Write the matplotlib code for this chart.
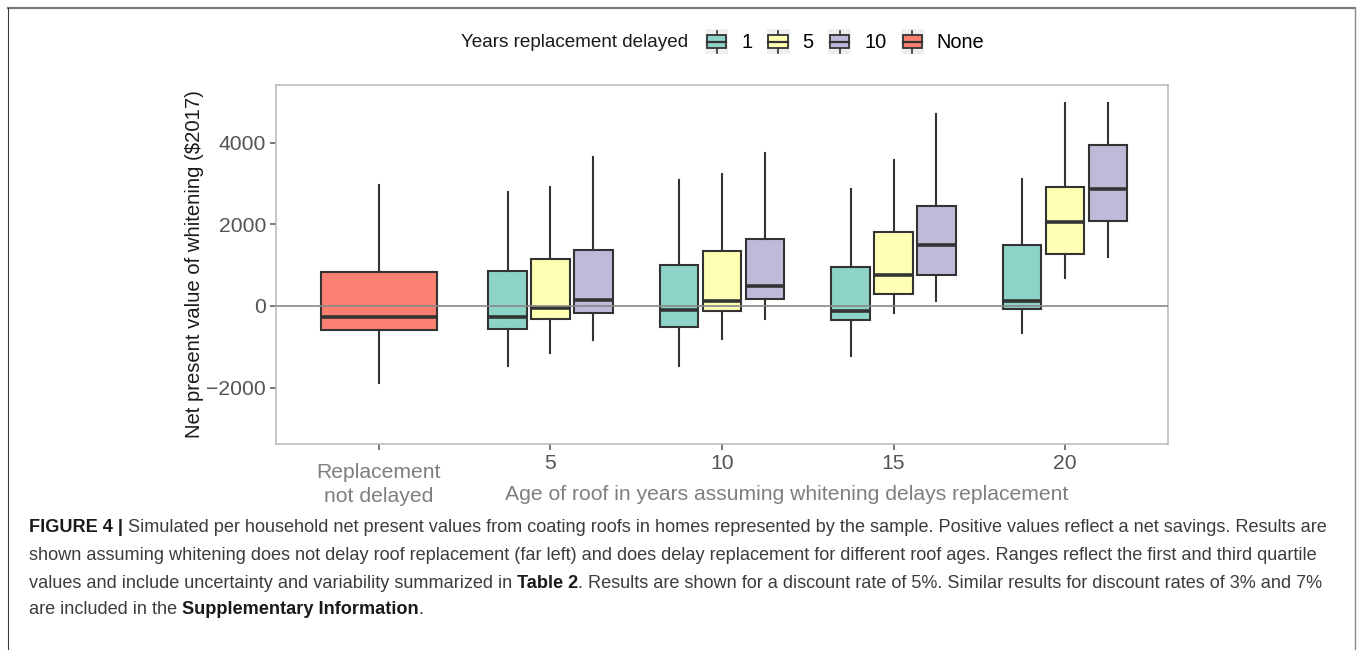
import matplotlib
matplotlib.use("Agg")

import matplotlib.pyplot as plt
from matplotlib.legend_handler import HandlerBase
from matplotlib.lines import Line2D
from matplotlib.patches import Rectangle

plt.rcParams["font.family"] = ["Liberation Sans", "DejaVu Sans"]

# x categories: far-left "not delayed" group, then roof ages
age_labels = ["5", "10", "15", "20"]
delay_labels = ["1", "5", "10"]

# box stats as (whisker low, Q1, median, Q3, whisker high), $2017
none_stats = [-1890, -590, -280, 825, 2960]
delay1_stats = [
    [-1460, -565, -260, 855, 2800],
    [-1470, -505, -100, 995, 3090],
    [-1230, -350, -120, 945, 2855],
    [-670, -75, 115, 1495, 3115],
]
delay5_stats = [
    [-1140, -310, -50, 1140, 2920],
    [-815, -120, 120, 1345, 3240],
    [-165, 295, 760, 1805, 3580],
    [675, 1275, 2045, 2920, 4970],
]
delay10_stats = [
    [-830, -170, 140, 1370, 3655],
    [-325, 180, 480, 1640, 3745],
    [120, 750, 1485, 2455, 4690],
    [1190, 2090, 2855, 3935, 4970],
]

fill_colors = {"1": "#8DD3C7", "5": "#FFFFB3", "10": "#BEBADA", "None": "#FB8072"}
edge = "#333333"
FS = 15.2


def to_bxp(s):
    lo, q1, med, q3, hi = s
    return {"whislo": lo, "q1": q1, "med": med, "q3": q3, "whishi": hi, "fliers": []}


def draw_boxes(ax, stats, positions, width, color):
    ax.bxp(
        [to_bxp(s) for s in stats],
        positions=positions,
        widths=width,
        showfliers=False,
        showcaps=False,
        patch_artist=True,
        boxprops=dict(facecolor=color, edgecolor=edge, linewidth=1.5),
        whiskerprops=dict(color=edge, linewidth=1.5),
        medianprops=dict(color=edge, linewidth=2.6, solid_capstyle="butt"),
        manage_ticks=False,
        zorder=2,
    )


class BoxKeyHandler(HandlerBase):
    # small boxplot glyph on a light grey key background
    def create_artists(self, legend, orig_handle, xdescent, ydescent,
                       width, height, fontsize, trans):
        color = orig_handle.get_facecolor()
        x0, y0 = -xdescent, -ydescent
        bg = Rectangle((x0, y0 - 2), width, height + 4,
                       facecolor="#EFEFEF", edgecolor="none", transform=trans)
        cx = x0 + width / 2
        whisk = Line2D([cx, cx], [y0 - 1, y0 + height + 1],
                       color=edge, lw=1.2, transform=trans)
        bw = width * 0.84
        box = Rectangle((cx - bw / 2, y0 + height * 0.16), bw, height * 0.68,
                        facecolor=color, edgecolor=edge, lw=1.3, transform=trans)
        med = Line2D([cx - bw / 2, cx + bw / 2], [y0 + height / 2] * 2,
                     color=edge, lw=1.6, transform=trans)
        return [bg, whisk, box, med]


fig = plt.figure(figsize=(13.58, 6.5), dpi=100)
ax = fig.add_axes([0.2032, 0.3169, 0.6569, 0.5523])

box_w = 0.225
offsets = {"1": -0.25, "5": 0.0, "10": 0.25}
group_x = [1, 2, 3, 4]

draw_boxes(ax, [none_stats], [0], 0.675, fill_colors["None"])
for lab, stats in zip(delay_labels, [delay1_stats, delay5_stats, delay10_stats]):
    draw_boxes(ax, stats, [g + offsets[lab] for g in group_x], box_w, fill_colors[lab])

ax.axhline(0, color="#888888", lw=1.2, zorder=3)

ax.set_xlim(-0.6, 4.6)
ax.set_ylim(-3380, 5410)
ax.set_yticks([-2000, 0, 2000, 4000])
ax.set_xticks([0] + group_x)
ax.set_xticklabels([""] + age_labels)

for side in ["top", "bottom", "left", "right"]:
    ax.spines[side].set_color("#B8B8B8")
    ax.spines[side].set_linewidth(1.1)
ax.tick_params(axis="both", colors="#555555", labelsize=FS, length=4,
               width=1.1, pad=3)

ax.set_ylabel("Net present value of whitening ($2017)", fontsize=14.6,
              color="#1A1A1A", labelpad=2)

ax.annotate("Replacement\nnot delayed", xy=(0, 0), xycoords=("data", "axes fraction"),
            xytext=(0, -13.5), textcoords="offset points", ha="center", va="top",
            fontsize=FS, color="#7F7F7F", linespacing=1.38)
ax.annotate("Age of roof in years assuming whitening delays replacement",
            xy=(0.573, 0), xycoords="axes fraction",
            xytext=(0, -36), textcoords="offset points", ha="center", va="center",
            fontsize=FS, color="#7F7F7F")

# legend across the top
handles = [Rectangle((0, 0), 1, 1, facecolor=fill_colors[k]) for k in ["1", "5", "10", "None"]]
fig.text(461 / 1358, 0.935, "Years replacement delayed", fontsize=13.6, color="#1A1A1A",
         ha="left", va="center")
fig.legend(handles, ["1", "5", "10", "None"], handler_map={Rectangle: BoxKeyHandler()},
           loc="center left", bbox_to_anchor=(705 / 1358, 0.935), ncol=4, frameon=False,
           fontsize=14.4, handlelength=1.15, handleheight=1.1, handletextpad=0.65,
           columnspacing=0.72, borderpad=0, borderaxespad=0)

# frame lines around the figure panel
fig.add_artist(Line2D([8 / 1358, 1355 / 1358], [1 - 8 / 650] * 2,
                      transform=fig.transFigure, color="#7A7A7A", lw=1.6))
fig.add_artist(Line2D([8 / 1358] * 2, [0, 1 - 8 / 650],
                      transform=fig.transFigure, color="#3A3A3A", lw=0.8))
fig.add_artist(Line2D([1355 / 1358] * 2, [0, 1 - 8 / 650],
                      transform=fig.transFigure, color="#8A8A8A", lw=1.0))

# caption, with bold runs
caption = [
    [("FIGURE 4 | ", "bold"),
     ("Simulated per household net present values from coating roofs in homes represented by the sample. "
      "Positive values reflect a net savings. Results are", "normal")],
    [("shown assuming whitening does not delay roof replacement (far left) and does delay replacement "
      "for different roof ages. Ranges reflect the first and third quartile", "normal")],
    [("values and include uncertainty and variability summarized in ", "normal"), ("Table 2", "bold"),
     (". Results are shown for a discount rate of 5%. Similar results for discount rates of 3% and 7%",
      "normal")],
    [("are included in the ", "normal"), ("Supplementary Information", "bold"), (".", "normal")],
]
renderer = fig.canvas.get_renderer()
line_y = [527, 555, 583, 610]
for parts, ypix in zip(caption, line_y):
    xpix = 29.0
    for txt, weight in parts:
        t = fig.text(xpix / 1358, 1 - ypix / 650, txt, fontsize=13.05, fontweight=weight,
                     color="#1A1A1A" if weight == "bold" else "#3C3C3C",
                     ha="left", va="center")
        bb = t.get_window_extent(renderer=renderer)
        xpix += bb.width

fig.savefig("out.png", dpi=100)
